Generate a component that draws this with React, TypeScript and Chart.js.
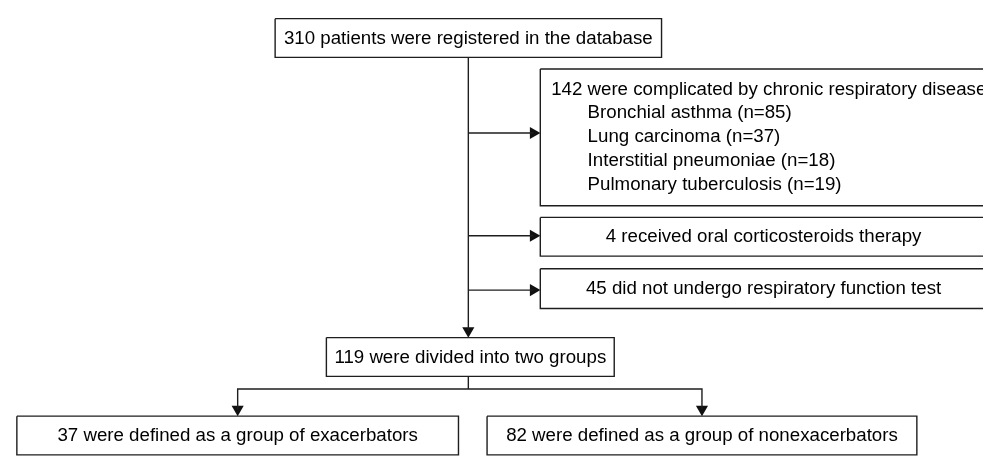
import React, { useEffect, useRef } from 'react';
import { Chart, registerables } from 'chart.js';

Chart.register(...registerables);

// ---------------- data ----------------
const totalRegistered = 310;
const exclusionCounts = [142, 4, 45];
const exclusionLabels = [
  'were complicated by chronic respiratory disease',
  'received oral corticosteroids therapy',
  'did not undergo respiratory function test',
];
const diseaseNames = ['Bronchial asthma', 'Lung carcinoma', 'Interstitial pneumoniae', 'Pulmonary tuberculosis'];
const diseaseCounts = [85, 37, 18, 19];
const analysedCount = 119;
const groupCounts = [37, 82];
const groupNames = ['exacerbators', 'nonexacerbators'];

// ---------------- layout (in the chart's own coordinate system) ----------------
const W = 983;
const H = 459;
type Box = { x0: number; x1: number; y0: number; y1: number };
const topBox: Box = { x0: 272, x1: 664, y0: 12, y1: 52 };
const exclBoxes: Box[] = [
  { x0: 541, x1: 994, y0: 64, y1: 205 },
  { x0: 541, x1: 994, y0: 217, y1: 257 },
  { x0: 541, x1: 994, y0: 270, y1: 311 },
];
const midBox: Box = { x0: 324, x1: 616, y0: 341, y1: 381 };
const groupBoxes: Box[] = [
  { x0: 10, x1: 458, y0: 422, y1: 462 },
  { x0: 487, x1: 923, y0: 422, y1: 462 },
];
const trunkX = 468;
const branchY = [130, 236, 292];
const splitY = 394;
const arrowR = 7;

const FONT = '18.7px "Liberation Sans", Arial, Helvetica, sans-serif';
const LINE = '#1e1e1e';

const rect = (b: Box) => [
  { x: b.x0, y: b.y0 },
  { x: b.x1, y: b.y0 },
  { x: b.x1, y: b.y1 },
  { x: b.x0, y: b.y1 },
  { x: b.x0, y: b.y0 },
];

const lineDs = (data: { x: number; y: number }[]) => ({
  type: 'scatter' as const,
  data,
  showLine: true,
  borderColor: LINE,
  borderWidth: 1.4,
  pointRadius: 0,
  fill: false,
  tension: 0,
  clip: false as any,
});

const centerX = (b: Box) => (b.x0 + b.x1) / 2;

const textPlugin = {
  id: 'flowText',
  afterDatasetsDraw(chart: any) {
    const ctx = chart.ctx as CanvasRenderingContext2D;
    const xs = chart.scales.x;
    const ys = chart.scales.y;
    const px = (v: number) => xs.getPixelForValue(v);
    const py = (v: number) => ys.getPixelForValue(v);
    ctx.save();
    ctx.font = FONT;
    ctx.fillStyle = '#000';
    ctx.textBaseline = 'middle';

    const centered = (t: string, b: Box) => {
      ctx.textAlign = 'center';
      ctx.fillText(t, px(centerX(b)), py((b.y0 + b.y1) / 2) + 0.5);
    };

    centered(`${totalRegistered} patients were registered in the database`, topBox);

    // first exclusion box: multi-line, left aligned
    ctx.textAlign = 'left';
    const b0 = exclBoxes[0];
    const lineGap = 24.5;
    const firstY = b0.y0 + 21;
    ctx.fillText(`${exclusionCounts[0]} ${exclusionLabels[0]}`, px(b0.x0 + 11), py(firstY));
    diseaseNames.forEach((name, i) => {
      ctx.fillText(`${name} (n=${diseaseCounts[i]})`, px(b0.x0 + 48), py(firstY + lineGap * (i + 1)));
    });

    for (let i = 1; i < exclBoxes.length; i++) {
      centered(`${exclusionCounts[i]} ${exclusionLabels[i]}`, exclBoxes[i]);
    }

    centered(`${analysedCount} were divided into two groups`, midBox);

    groupBoxes.forEach((b, i) => {
      ctx.textAlign = 'center';
      ctx.fillText(`${groupCounts[i]} were defined as a group of ${groupNames[i]}`, px(centerX(b)), py(b.y0 + 20.5));
    });
    ctx.restore();
  },
};

export default function App() {
  const ref = useRef<HTMLCanvasElement | null>(null);

  useEffect(() => {
    document.body.style.margin = '0';
    const canvas = ref.current;
    if (!canvas) return;

    const g0 = centerX(groupBoxes[0]);
    const g1 = centerX(groupBoxes[1]);

    const datasets: any[] = [
      lineDs(rect(topBox)),
      ...exclBoxes.map((b) => lineDs(rect(b))),
      lineDs(rect(midBox)),
      ...groupBoxes.map((b) => lineDs(rect(b))),
      // trunk
      lineDs([{ x: trunkX, y: topBox.y1 }, { x: trunkX, y: midBox.y0 - arrowR }]),
      // branches
      ...branchY.map((y) => lineDs([{ x: trunkX, y }, { x: exclBoxes[0].x0 - arrowR, y }])),
      // split
      lineDs([{ x: trunkX, y: midBox.y1 }, { x: trunkX, y: splitY }]),
      lineDs([
        { x: g0, y: groupBoxes[0].y0 - arrowR },
        { x: g0, y: splitY },
        { x: g1, y: splitY },
        { x: g1, y: groupBoxes[1].y0 - arrowR },
      ]),
      // arrow heads
      {
        type: 'scatter',
        data: [
          ...branchY.map((y) => ({ x: exclBoxes[0].x0 - arrowR, y })),
          { x: trunkX, y: midBox.y0 - arrowR },
          { x: g0, y: groupBoxes[0].y0 - arrowR },
          { x: g1, y: groupBoxes[1].y0 - arrowR },
        ],
        pointStyle: 'triangle',
        pointRadius: arrowR,
        pointRotation: [90, 90, 90, 180, 180, 180],
        pointBackgroundColor: '#111',
        pointBorderColor: '#111',
        pointBorderWidth: 0,
        showLine: false,
        clip: false,
      },
    ];

    const chart = new Chart(canvas, {
      type: 'scatter',
      data: { datasets },
      options: {
        animation: false,
        responsive: false,
        maintainAspectRatio: false,
        events: [],
        layout: { padding: 0 },
        plugins: { legend: { display: false }, tooltip: { enabled: false } },
        scales: {
          x: { type: 'linear', min: 0, max: W, display: false },
          y: { type: 'linear', min: 0, max: H, reverse: true, display: false },
        },
      },
      plugins: [textPlugin],
    });

    return () => chart.destroy();
  }, []);

  return (
    <div style={{ width: W, height: H, background: '#fff' }}>
      <canvas ref={ref} width={W} height={H} style={{ display: 'block' }} />
    </div>
  );
}
